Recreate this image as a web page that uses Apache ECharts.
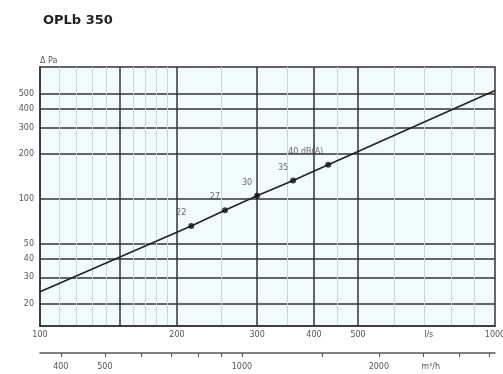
<!DOCTYPE html>
<html>
<head>
<meta charset="utf-8">
<script src="https://cdn.jsdelivr.net/npm/echarts@6/dist/echarts.min.js"></script>
<style>
  html, body { margin: 0; padding: 0; background: #fff; }
  #chart { width: 503px; height: 374px; }
</style>
</head>
<body>
<div id="chart"></div>
<script>
// characteristic curve, l/s -> Pa
const curveFlow = [100, 215, 255, 300, 360, 430, 1000]
const curvePa = [24, 66, 84, 105, 133, 169, 530]
// operating points with sound level
const pointFlow = [215, 255, 300, 360, 430]
const pointPa = [66, 84, 105, 133, 169]
const pointLabels = ['22', '27', '30', '35', '40 dB(A)']

const flowLabels = [100, 200, 300, 400, 500, 1000]
const flowUnitAt = 715
const flowMajor = [150, 200, 300, 400, 500]
const flowMinor = [110, 120, 130, 140, 160, 170, 180, 190, 250, 350, 450, 600, 700, 800, 900]
const paLabels = [20, 30, 40, 50, 100, 200, 300, 400, 500]
const m3hLabels = [400, 500, 1000, 2000]
const m3hUnitAt = 2600
const m3hTicks = [400, 500, 600, 700, 800, 900, 1000, 1500, 2000, 2500, 3000, 3500]

const chart = echarts.init(document.getElementById('chart'))
const font = 'DejaVu Sans'
const near = (a, b) => Math.abs(a - b) < b * 0.01

const option = {
  animation: false,
  title: {
    text: 'OPLb 350',
    left: 38,
    top: 9,
    textStyle: { fontFamily: font, fontSize: 13, fontWeight: 'bold', color: '#222' }
  },
  grid: {
    left: 40, right: 8, top: 67, bottom: 48,
    outerBoundsMode: 'none',
    show: true,
    backgroundColor: '#f1fbfb',
    borderColor: '#333',
    borderWidth: 1.5
  },
  xAxis: [{
    type: 'log', min: 100, max: 1000,
    position: 'bottom',
    axisLine: { lineStyle: { color: '#333', width: 1.5 } },
    axisTick: { show: false, customValues: flowMajor },
    splitLine: { show: true, lineStyle: { color: '#333', width: 1.5 } },
    axisLabel: {
      customValues: flowLabels.concat([flowUnitAt]),
      formatter: v => near(v, flowUnitAt) ? 'l/s' : String(Math.round(v)),
      fontFamily: font, fontSize: 8, color: '#555', margin: 5
    }
  }, {
    type: 'log', min: 100, max: 1000,
    position: 'bottom',
    axisLine: { show: false },
    axisTick: { show: false, customValues: flowMinor },
    axisLabel: { show: false },
    splitLine: { show: true, lineStyle: { color: '#cbd5d5', width: 1 } }
  }, {
    type: 'log', min: 360, max: 3600,
    position: 'bottom',
    offset: 27,
    axisLine: { lineStyle: { color: '#555', width: 1.5 } },
    axisTick: { show: true, customValues: m3hTicks, length: 4, lineStyle: { color: '#555' } },
    splitLine: { show: false },
    axisLabel: {
      customValues: m3hLabels.concat([m3hUnitAt]),
      formatter: v => near(v, m3hUnitAt) ? 'm³/h' : String(Math.round(v)),
      fontFamily: font, fontSize: 8, color: '#555', margin: 10
    }
  }],
  yAxis: [{
    type: 'log', min: 14.2, max: 760,
    name: 'Δ Pa',
    nameLocation: 'end',
    nameGap: 2,
    nameTextStyle: { fontFamily: font, fontSize: 8, color: '#555', align: 'left' },
    axisLine: { lineStyle: { color: '#333', width: 1.5 } },
    axisTick: { show: false, customValues: paLabels },
    splitLine: { show: true, lineStyle: { color: '#333', width: 1.5 } },
    axisLabel: {
      customValues: paLabels,
      formatter: v => String(Math.round(v)),
      fontFamily: font, fontSize: 8, color: '#555', margin: 6
    }
  }],
  series: [{
    type: 'line',
    xAxisIndex: 0,
    yAxisIndex: 0,
    data: curveFlow.map((f, i) => [f, curvePa[i]]),
    showSymbol: false,
    lineStyle: { color: '#222', width: 1.6 },
    z: 5
  }, {
    type: 'scatter',
    xAxisIndex: 0,
    yAxisIndex: 0,
    data: pointFlow.map((f, i) => [f, pointPa[i]]),
    symbolSize: 6,
    itemStyle: { color: '#111' },
    label: {
      show: true,
      position: 'left',
      offset: [3, -13],
      formatter: p => pointLabels[p.dataIndex],
      fontFamily: font, fontSize: 8, color: '#444'
    },
    z: 6
  }]
}
chart.setOption(option)
</script>
</body>
</html>
